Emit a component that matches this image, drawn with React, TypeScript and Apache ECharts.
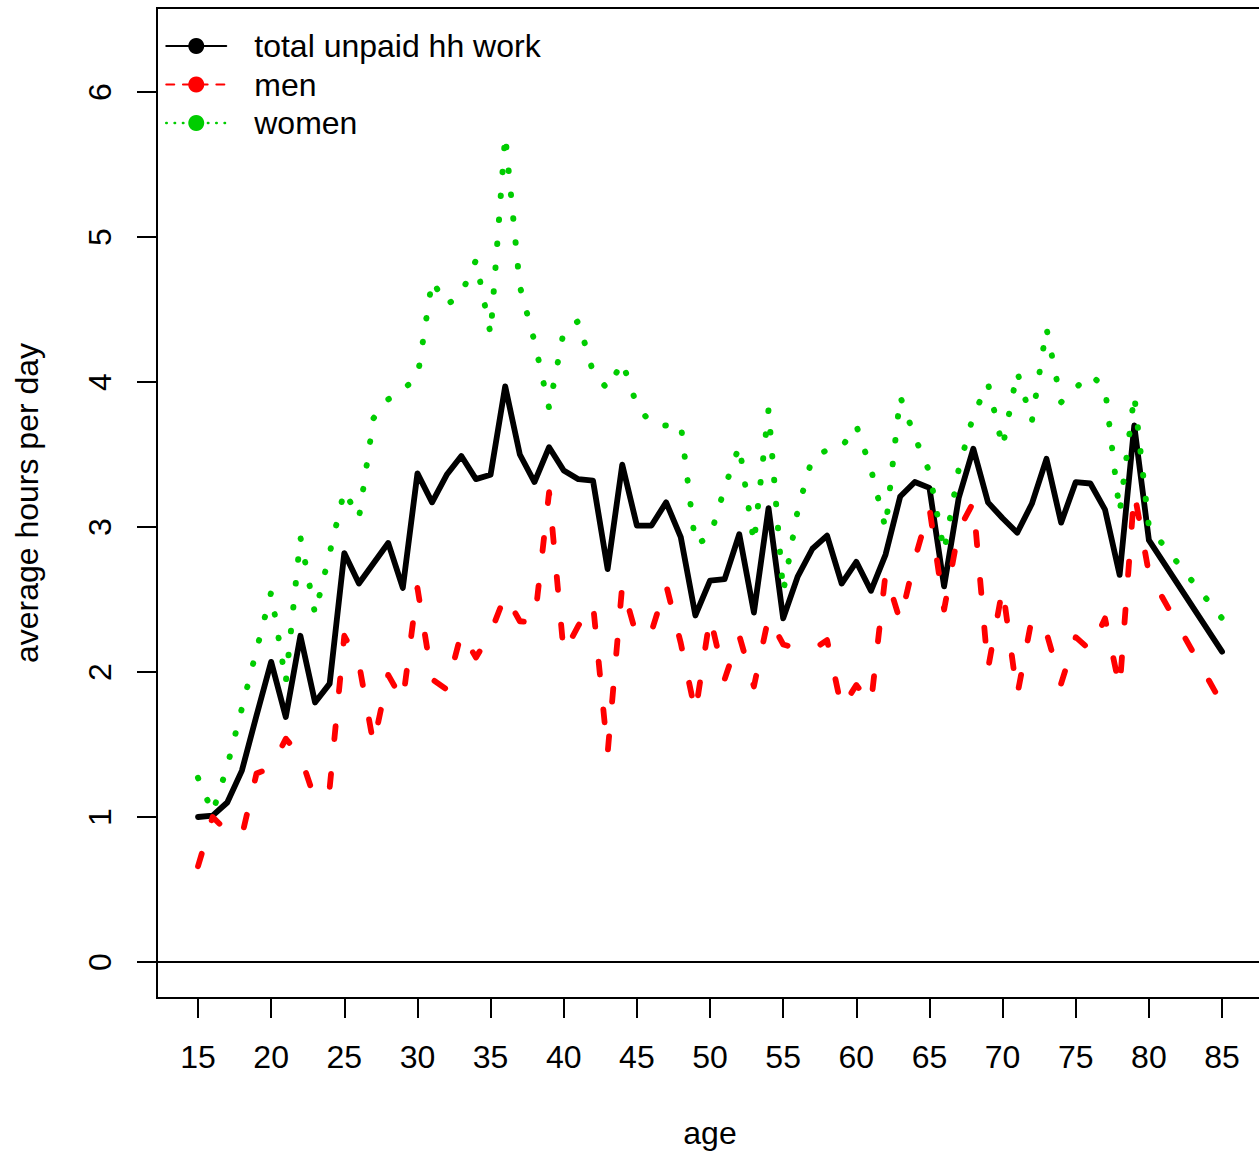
import React, { useEffect, useRef } from "react";
import * as echarts from "echarts";

// ---- data ----
const ages = [
  15, 16, 17, 18, 19, 20, 21, 22, 23, 24, 25, 26, 27, 28, 29, 30, 31, 32, 33, 34,
  35, 36, 37, 38, 39, 40, 41, 42, 43, 44, 45, 46, 47, 48, 49, 50, 51, 52, 53, 54,
  55, 56, 57, 58, 59, 60, 61, 62, 63, 64, 65, 66, 67, 68, 69, 70, 71, 72, 73, 74,
  75, 76, 77, 78, 79, 80, 85,
];

const totalWork = [
  1.0, 1.01, 1.1, 1.32, 1.7, 2.07, 1.69, 2.25, 1.79, 1.92, 2.82, 2.61, 2.75, 2.89, 2.58, 3.37, 3.17, 3.36, 3.49, 3.33,
  3.36, 3.97, 3.5, 3.31, 3.55, 3.39, 3.33, 3.32, 2.71, 3.43, 3.01, 3.01, 3.17, 2.93, 2.39, 2.63, 2.64, 2.95, 2.41, 3.13,
  2.37, 2.66, 2.85, 2.94, 2.61, 2.76, 2.56, 2.81, 3.21, 3.31, 3.27, 2.59, 3.2, 3.54, 3.17, 3.06, 2.96, 3.16, 3.47, 3.03,
  3.31, 3.3, 3.12, 2.67, 3.7, 2.91, 2.14,
];

const menWork = [
  0.66, 1.0, 0.9, 0.87, 1.3, 1.34, 1.54, 1.42, 1.12, 1.2, 2.25, 2.06, 1.5, 1.98, 1.8, 2.58, 1.95, 1.88, 2.27, 2.1,
  2.27, 2.53, 2.35, 2.34, 3.24, 2.13, 2.32, 2.47, 1.44, 2.6, 2.24, 2.28, 2.6, 2.2, 1.72, 2.38, 1.95, 2.25, 1.9, 2.38,
  2.19, 2.16, 2.15, 2.22, 1.75, 1.91, 1.78, 2.68, 2.35, 2.78, 3.13, 2.43, 2.98, 3.17, 2.02, 2.58, 1.84, 2.37, 2.27, 1.92,
  2.24, 2.15, 2.37, 1.89, 3.24, 2.68, 1.78,
];

const womenWork = [
  1.27, 1.03, 1.35, 1.75, 2.15, 2.55, 1.93, 2.93, 2.4, 2.82, 3.25, 3.06, 3.75, 3.88, 3.95, 4.03, 4.7, 4.53, 4.61, 4.84,
  4.33, 5.7, 4.66, 4.28, 3.82, 4.35, 4.42, 4.07, 3.95, 4.14, 3.84, 3.71, 3.7, 3.71, 2.88, 2.93, 3.27, 3.56, 2.89, 3.81,
  2.55, 3.12, 3.48, 3.53, 3.55, 3.7, 3.4, 2.99, 3.9, 3.62, 3.38, 2.83, 3.4, 3.77, 3.99, 3.55, 4.07, 3.73, 4.37, 3.86,
  3.96, 4.05, 3.96, 3.1, 3.91, 3.0, 2.37,
];

const xTicks = [15, 20, 25, 30, 35, 40, 45, 50, 55, 60, 65, 70, 75, 80, 85];
const yTicks = [0, 1, 2, 3, 4, 5, 6];
const seriesNames = ["total unpaid hh work", "men", "women"];
const xTitle = "age";
const yTitle = "average hours per day";

const FONT = "'Liberation Sans', Arial, Helvetica, sans-serif";

function pairs(values: number[]) {
  return ages.map((a, i) => [a, values[i]]);
}

export default function App() {
  const ref = useRef<HTMLDivElement>(null);

  useEffect(() => {
    document.documentElement.style.overflow = "hidden";
    document.body.style.margin = "0";
    document.body.style.overflow = "hidden";
    if (!ref.current) return;
    const chart = echarts.init(ref.current, undefined, { renderer: "svg" });

    const axisText = { fontSize: 32, color: "#000", fontFamily: FONT };

    chart.setOption({
      animation: false,
      backgroundColor: "#ffffff",
      textStyle: { fontFamily: FONT },
      grid: {
        left: 157,
        top: 8,
        width: 1106,
        height: 990,
        outerBoundsMode: "none",
        containLabel: false,
        show: true,
        borderColor: "#000",
        borderWidth: 2,
        backgroundColor: "transparent",
      },
      xAxis: {
        type: "value",
        min: 12.197,
        max: 87.8,
        splitLine: { show: false },
        axisLine: { show: false, onZero: false },
        axisTick: {
          show: true,
          length: 20,
          lineStyle: { color: "#000", width: 2 },
          customValues: xTicks,
        },
        axisLabel: { ...axisText, customValues: xTicks, margin: 43 },
        name: xTitle,
        nameLocation: "middle",
        nameGap: 119,
        nameTextStyle: axisText,
      },
      yAxis: {
        type: "value",
        min: -0.2483,
        max: 6.5793,
        splitLine: { show: false },
        axisLine: { show: false, onZero: false },
        axisTick: {
          show: true,
          length: 20,
          lineStyle: { color: "#000", width: 2 },
          customValues: yTicks,
        },
        axisLabel: { ...axisText, customValues: yTicks, rotate: 90, margin: 41 },
        name: yTitle,
        nameLocation: "middle",
        nameGap: 114,
        nameRotate: 90,
        nameTextStyle: axisText,
      },
      legend: {
        orient: "vertical",
        left: 165,
        top: 30,
        padding: 0,
        itemWidth: 60,
        itemHeight: 20,
        itemGap: 6.5,
        selectedMode: false,
        textStyle: { fontSize: 32, color: "#000", fontFamily: FONT, padding: [0, 0, 0, 23] },
        data: [
          { name: seriesNames[0], lineStyle: { width: 2, type: "solid" } },
          { name: seriesNames[1], lineStyle: { width: 2, type: [8, 8.7] } },
          { name: seriesNames[2], lineStyle: { width: 2.5, type: [0.5, 7.83], cap: "round" } },
        ],
      },
      series: [
        {
          name: seriesNames[0],
          type: "line",
          data: pairs(totalWork),
          symbol: "none",
          z: 2,
          itemStyle: { color: "#000000" },
          lineStyle: { color: "#000000", width: 5.8, join: "round", cap: "round" },
          markLine: {
            silent: true,
            symbol: ["none", "none"],
            label: { show: false },
            lineStyle: { color: "#000", width: 2, type: "solid" },
            data: [{ yAxis: 0 }],
          },
        },
        {
          name: seriesNames[1],
          type: "line",
          data: pairs(menWork),
          symbol: "none",
          z: 3,
          itemStyle: { color: "#FF0000" },
          lineStyle: { color: "#FF0000", width: 5.8, type: [13, 35], cap: "round", join: "round" },
        },
        {
          name: seriesNames[2],
          type: "line",
          data: pairs(womenWork),
          symbol: "none",
          z: 4,
          itemStyle: { color: "#00CD00" },
          lineStyle: { color: "#00CD00", width: 6, type: [0.5, 23.5], cap: "round", join: "round" },
        },
      ],
    });

    return () => chart.dispose();
  }, []);

  return (
    <div style={{ position: "fixed", left: 0, top: 0, width: 1259, height: 1151, overflow: "hidden" }}>
      <div ref={ref} style={{ width: 1259, height: 1151, background: "#fff" }} />
    </div>
  );
}
